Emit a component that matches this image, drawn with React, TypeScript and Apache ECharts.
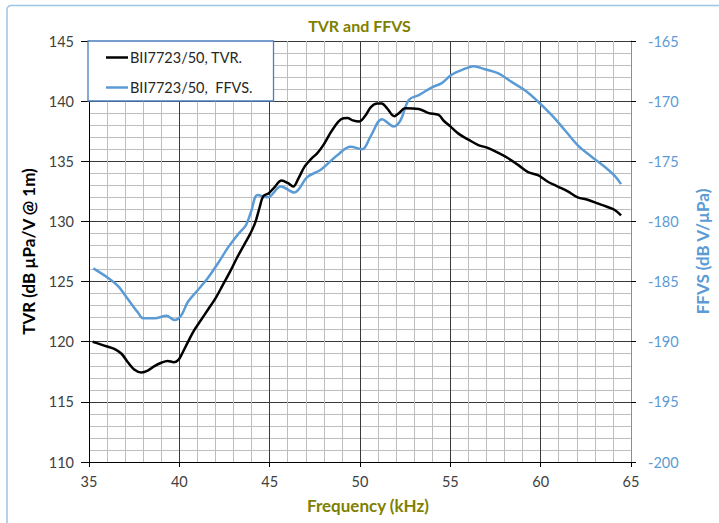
import React, { useEffect, useRef } from "react";
import * as echarts from "echarts";

const tvrFreq = [35.2, 35.6, 36.0, 36.4, 36.8, 37.15, 37.5, 37.9, 38.25, 38.6, 39.0, 39.35, 39.7, 39.95, 40.15, 40.45, 40.8, 41.2, 41.6, 42.0, 42.4, 42.8, 43.2, 43.6, 43.9, 44.2, 44.45, 44.65, 44.95, 45.3, 45.65, 46.0, 46.3, 46.6, 46.95, 47.3, 47.65, 47.95, 48.3, 48.6, 48.95, 49.3, 49.6, 49.95, 50.3, 50.6, 50.95, 51.2, 51.5, 51.9, 52.15, 52.5, 53.25, 53.8, 54.35, 54.65, 55.0, 55.45, 56.0, 56.55, 57.1, 57.65, 58.2, 58.75, 59.3, 59.85, 60.4, 60.95, 61.5, 62.05, 62.6, 63.15, 63.7, 64.1, 64.45];
const tvrValues = [120.0, 119.8, 119.6, 119.4, 119.0, 118.3, 117.7, 117.45, 117.6, 117.95, 118.25, 118.4, 118.3, 118.5, 119.0, 119.9, 120.9, 121.8, 122.7, 123.6, 124.7, 125.8, 127.0, 128.1, 128.9, 129.9, 131.2, 132.1, 132.35, 132.9, 133.4, 133.2, 132.9, 133.6, 134.6, 135.2, 135.7, 136.3, 137.2, 137.9, 138.5, 138.6, 138.4, 138.3, 138.8, 139.5, 139.8, 139.8, 139.4, 138.75, 139.0, 139.4, 139.35, 139.0, 138.85, 138.35, 137.9, 137.3, 136.8, 136.35, 136.1, 135.7, 135.25, 134.7, 134.1, 133.85, 133.3, 132.9, 132.5, 132.0, 131.8, 131.5, 131.2, 130.95, 130.5];

const ffvsFreq = [35.24, 36.06, 36.62, 37.17, 37.72, 37.99, 38.64, 39.28, 39.74, 40.11, 40.47, 41.03, 41.58, 42.13, 42.68, 43.23, 43.69, 43.97, 44.33, 44.88, 45.62, 46.36, 47.09, 47.83, 48.74, 49.48, 50.12, 50.58, 51.22, 51.87, 52.24, 52.7, 53.25, 53.98, 54.53, 55.08, 55.82, 56.28, 56.92, 57.66, 58.39, 59.13, 59.86, 60.6, 61.33, 62.07, 62.8, 63.54, 64.09, 64.45];
const ffvsValues = [-183.9, -184.7, -185.4, -186.5, -187.6, -188.05, -188.05, -187.85, -188.2, -187.8, -186.7, -185.7, -184.7, -183.5, -182.2, -181.1, -180.3, -179.2, -177.8, -178.0, -177.1, -177.6, -176.3, -175.7, -174.5, -173.8, -174.0, -172.95, -171.5, -172.1, -171.6, -169.9, -169.5, -168.85, -168.5, -167.8, -167.3, -167.1, -167.35, -167.7, -168.4, -169.1, -170.05, -171.15, -172.4, -173.7, -174.6, -175.45, -176.2, -176.9];

const seriesNames = ["BII7723/50, TVR.", "BII7723/50,  FFVS."];
const titleText = "TVR and FFVS";
const xName = "Frequency (kHz)";
const yLeftName = "TVR (dB µPa/V @ 1m)";
const yRightName = "FFVS (dB V/µPa)";

const FONT = "Lato, 'Liberation Sans', sans-serif";

export default function App() {
  const ref = useRef<HTMLDivElement>(null);
  useEffect(() => {
    if (!ref.current) return;
    const chart = echarts.init(ref.current, undefined, { renderer: "svg" });
    const olive = "#7F7F00";
    const blue = "#5B9BD5";
    chart.setOption({
      animation: false,
      backgroundColor: "#fff",
      textStyle: { fontFamily: FONT },
      title: {
        text: titleText,
        left: "center",
        top: 12,
        textStyle: { color: olive, fontSize: 16, fontWeight: "bold", fontFamily: FONT },
      },
      graphic: [
        {
          type: "rect",
          shape: { x: 7, y: 5.5, width: 800, height: 600, r: 4 },
          style: { fill: "none", stroke: "#9DC3E6", lineWidth: 1.5 },
          silent: true,
        },
      ],
      legend: {
        orient: "vertical",
        left: 88,
        top: 41,
        padding: [8, 21, 5, 18],
        itemGap: 13,
        itemWidth: 22,
        itemHeight: 2.5,
        icon: "rect",
        backgroundColor: "#fff",
        borderColor: "#4A7EBB",
        borderWidth: 1.3,
        textStyle: { fontSize: 14.5, color: "#262626", fontFamily: FONT, padding: [0, 0, 0, -3], lineHeight: 17 },
        data: seriesNames,
      },
      grid: { left: 89, right: 86, top: 41, bottom: 61, containLabel: false },
      xAxis: {
        type: "value",
        min: 35,
        max: 65,
        interval: 5,
        name: xName,
        nameLocation: "middle",
        nameGap: 35,
        nameTextStyle: { color: olive, fontSize: 17, fontWeight: "bold", fontFamily: FONT, padding: [0, 0, 0, 16] },
        axisLine: { show: true, onZero: false, lineStyle: { color: "#000", width: 1 } },
        axisTick: { show: true, length: 5, lineStyle: { color: "#000" } },
        axisLabel: { color: "#404040", fontSize: 14.5, margin: 12, fontFamily: FONT },
        splitLine: { show: true, lineStyle: { color: "#3A3A3A", width: 1 } },
        minorTick: { show: false, splitNumber: 5 },
        minorSplitLine: { show: true, lineStyle: { color: "#BDBDBD", width: 1 } },
      },
      yAxis: [
        {
          type: "value",
          min: 110,
          max: 145,
          interval: 5,
          position: "left",
          name: yLeftName,
          nameLocation: "middle",
          nameGap: 52,
          nameTextStyle: { color: "#000", fontSize: 17, fontWeight: "bold", fontFamily: FONT },
          axisLine: { show: true, lineStyle: { color: "#000", width: 1 } },
          axisTick: { show: true, length: 8, lineStyle: { color: "#000" } },
          axisLabel: { color: "#404040", fontSize: 14.5, margin: 15, fontFamily: FONT },
          splitLine: { show: true, lineStyle: { color: "#3A3A3A", width: 1 } },
          minorTick: { show: false, splitNumber: 5 },
          minorSplitLine: { show: true, lineStyle: { color: "#BDBDBD", width: 1 } },
        },
        {
          type: "value",
          min: -200,
          max: -165,
          interval: 5,
          position: "right",
          name: yRightName,
          nameLocation: "middle",
          nameGap: 63,
          nameRotate: 90,
          nameTextStyle: { color: blue, fontSize: 17, fontWeight: "bold", fontFamily: FONT },
          axisLine: { show: true, lineStyle: { color: blue, width: 1 } },
          axisTick: { show: true, length: 5, lineStyle: { color: "#000" } },
          axisLabel: { color: blue, fontSize: 14.5, margin: 17, fontFamily: FONT },
          splitLine: { show: false },
        },
      ],
      series: [
        {
          name: seriesNames[0],
          type: "line",
          yAxisIndex: 0,
          data: tvrFreq.map((f, i) => [f, tvrValues[i]]),
          symbol: "none",
          smooth: 0.35,
          lineStyle: { color: "#000", width: 2.5 },
          itemStyle: { color: "#000" },
          z: 3,
        },
        {
          name: seriesNames[1],
          type: "line",
          yAxisIndex: 1,
          data: ffvsFreq.map((f, i) => [f, ffvsValues[i]]),
          symbol: "none",
          smooth: 0.35,
          lineStyle: { color: blue, width: 2.5 },
          itemStyle: { color: blue },
          z: 2,
        },
      ],
    });
    return () => chart.dispose();
  }, []);
  return (
    <div
      ref={ref}
      style={{ position: "fixed", left: 0, top: 0, width: 719, height: 523 }}
    />
  );
}
